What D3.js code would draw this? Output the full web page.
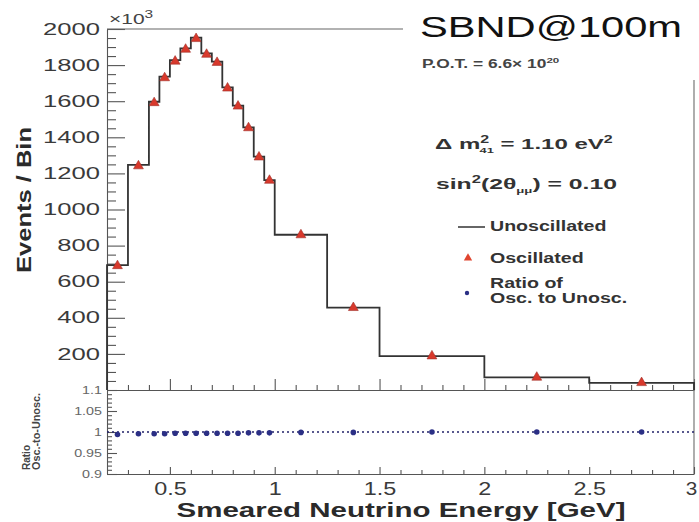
<!DOCTYPE html>
<html><head><meta charset="utf-8">
<script src="https://cdn.jsdelivr.net/npm/d3@7"></script>
<style>
body{margin:0;background:#fff}
svg{display:block}
text{font-family:"Liberation Sans",Arial,Helvetica,sans-serif;fill:#333}
</style></head><body>
<svg id="c" width="699" height="522"></svg>
<script>
// ---- data ----
const binEdges = [0.2,0.3,0.4,0.45,0.5,0.55,0.6,0.65,0.7,0.75,0.8,0.85,0.9,0.95,1.0,1.25,1.5,2.0,2.5,3.0];
const unosc = [692,1247,1597,1736,1828,1893,1952,1865,1819,1677,1575,1455,1293,1163,860,456,188,70,40]; // x10^3
const osc   = [688,1241,1591,1729,1821,1887,1946,1859,1814,1672,1572,1452,1290,1161,859,456,188,70,40];
const ratio = [0.994,0.996,0.996,0.996,0.997,0.997,0.997,0.997,0.997,0.997,0.997,0.998,0.998,0.998,0.999,0.999,1.0,1.0,1.0];
const yTickLabels = [200,400,600,800,1000,1200,1400,1600,1800,2000];
const xTickLabels = [0.5,1,1.5,2,2.5,3];
const ratioTickLabels = [0.9,0.95,1,1.05,1.1];

const svg = d3.select("#c");
const L = 107, R = 694, TOP = 29, MID = 390, BOT = 474;
const x = d3.scaleLinear([0.2,3],[L,R]);
const y = d3.scaleLinear([0,2000],[MID,TOP]);
const yr = d3.scaleLinear([0.9,1.1],[BOT,MID]);

function stretch(sel,k,origin){
  sel.style("transform-box","fill-box").style("transform-origin",origin).style("transform",`scaleX(${k})`);
}
function styleAxis(g){
  g.selectAll("path,line").attr("stroke","#555").attr("stroke-width",1.1);
}

// ---- upper panel axes ----
const gyl = svg.append("g").attr("transform",`translate(${L},0)`)
  .call(d3.axisLeft(y).tickValues(yTickLabels).tickSize(-18).tickSizeOuter(0).tickPadding(7).tickFormat(d3.format("d")));
styleAxis(gyl);
gyl.selectAll("text").attr("font-size",16).style("fill","#3a3a3a")
  .call(stretch,1.6,"100% 50%");
const yMinor = d3.range(50,2000,50).filter(v=>v%200!==0);
const gym = svg.append("g").attr("transform",`translate(${L},0)`)
  .call(d3.axisLeft(y).tickValues(yMinor).tickSize(-9).tickFormat(""));
gym.select(".domain").remove(); styleAxis(gym);

const xMinor = d3.range(3,30).map(v=>v/10).filter(v=>Math.abs(v*2-Math.round(v*2))>1e-6);
const gxu = svg.append("g").attr("transform",`translate(0,${MID})`)
  .call(d3.axisBottom(x).tickValues(xTickLabels).tickSize(-11).tickSizeOuter(0).tickFormat(""));
styleAxis(gxu);
const gxum = svg.append("g").attr("transform",`translate(0,${MID})`)
  .call(d3.axisBottom(x).tickValues(xMinor).tickSize(-5).tickFormat(""));
gxum.select(".domain").remove(); styleAxis(gxum);

// top frame (partially hidden by label area) and right frame
svg.append("line").attr("x1",L).attr("x2",403).attr("y1",TOP).attr("y2",TOP).attr("stroke","#666").attr("stroke-width",1.2);
svg.append("line").attr("x1",R).attr("x2",R).attr("y1",80).attr("y2",BOT).attr("stroke","#777").attr("stroke-width",1.2);

// x10^3
const e3 = svg.append("text").attr("x",109).attr("y",24).attr("font-size",15).style("fill","#444");
e3.append("tspan").text("×10");
e3.append("tspan").attr("font-size",11).attr("dy",-6).text("3");
stretch(e3,1.4,"0% 50%");

// ---- histogram (unoscillated) ----
const pts = [[binEdges[0],0]];
unosc.forEach((v,i)=>{ pts.push([binEdges[i],v]); pts.push([binEdges[i+1],v]); });
pts.push([binEdges[binEdges.length-1],0]);
svg.append("path").attr("d",d3.line().x(d=>x(d[0])).y(d=>y(d[1]))(pts))
  .attr("fill","none").attr("stroke","#333").attr("stroke-width",1.8);

// oscillated triangles
const centers = unosc.map((v,i)=>(binEdges[i]+binEdges[i+1])/2);
const tri = d3.symbol().type(d3.symbolTriangle).size(42);
svg.append("g").selectAll("path").data(osc).join("path")
  .attr("d",tri).attr("transform",(d,i)=>`translate(${x(centers[i])},${y(d)})`)
  .attr("fill","#d8392c").attr("stroke","#a0302a").attr("stroke-width",0.6);

// ---- lower panel ----
const gyr = svg.append("g").attr("transform",`translate(${L},0)`)
  .call(d3.axisLeft(yr).tickValues(ratioTickLabels).tickSize(-10).tickSizeOuter(0).tickPadding(5).tickFormat(d=>String(d)));
styleAxis(gyr);
gyr.selectAll("text").attr("font-size",11).style("fill","#666").call(stretch,1.3,"100% 50%");
const rMinor = d3.range(91,110).map(v=>v/100).filter(v=>Math.abs(v*20-Math.round(v*20))>1e-6);
const gyrm = svg.append("g").attr("transform",`translate(${L},0)`)
  .call(d3.axisLeft(yr).tickValues(rMinor).tickSize(-5).tickFormat(""));
gyrm.select(".domain").remove(); styleAxis(gyrm);

const gxl = svg.append("g").attr("transform",`translate(0,${BOT})`)
  .call(d3.axisBottom(x).tickValues(xTickLabels).tickSize(-7).tickSizeOuter(0).tickPadding(8).tickFormat(d=>String(d)));
styleAxis(gxl);
gxl.selectAll("text").attr("font-size",18).style("fill","#3a3a3a").call(stretch,1.3,"50% 50%");
gxl.selectAll("text").filter(d=>d===3).attr("x",-3).call(stretch,1.15,"50% 50%");
const gxlm = svg.append("g").attr("transform",`translate(0,${BOT})`)
  .call(d3.axisBottom(x).tickValues(xMinor).tickSize(-4).tickFormat(""));
gxlm.select(".domain").remove(); styleAxis(gxlm);

// dotted line at 1
svg.append("line").attr("x1",L).attr("x2",R).attr("y1",yr(1)).attr("y2",yr(1))
  .attr("stroke","#22226a").attr("stroke-width",1.6).attr("stroke-dasharray","2,3");
svg.append("g").selectAll("circle").data(ratio).join("circle")
  .attr("cx",(d,i)=>x(centers[i])).attr("cy",d=>yr(d)).attr("r",2.8).attr("fill","#2b2f85");

// ---- titles ----
svg.append("text").attr("x",401).attr("y",517).attr("text-anchor","middle")
  .attr("font-size",21).attr("font-weight","bold").attr("textLength",449).attr("lengthAdjust","spacingAndGlyphs")
  .style("fill","#2a2a2a").text("Smeared Neutrino Energy [GeV]");
svg.append("text").attr("transform","translate(31,200) rotate(-90)").attr("text-anchor","middle")
  .attr("font-size",20).attr("font-weight","bold").attr("textLength",146).attr("lengthAdjust","spacingAndGlyphs")
  .style("fill","#2a2a2a").text("Events / Bin");
svg.append("text").attr("transform","translate(30,470) rotate(-90)")
  .attr("font-size",10).attr("font-weight","bold").style("fill","#444").text("Ratio");
svg.append("text").attr("transform","translate(40,470) rotate(-90)")
  .attr("font-size",10).attr("font-weight","bold").attr("textLength",77).attr("lengthAdjust","spacingAndGlyphs")
  .style("fill","#444").text("Osc.-to-Unosc.");

// ---- annotations / legend ----
svg.append("text").attr("x",420).attr("y",37).attr("font-size",30)
  .attr("font-family","DejaVu Sans").attr("textLength",262).attr("lengthAdjust","spacingAndGlyphs")
  .style("fill","#111").text("SBND@100m");

const pot = svg.append("text").attr("x",422).attr("y",68).attr("font-size",12).attr("font-weight","bold").style("fill","#444");
pot.append("tspan").text("P.O.T. = 6.6× 10");
pot.append("tspan").attr("font-size",8).attr("dy",-5).text("20");
stretch(pot,1.45,"0% 50%");

const dm = svg.append("text").attr("x",435).attr("y",149).attr("font-size",15).attr("font-weight","bold").style("fill","#333");
dm.append("tspan").text("Δ m");
dm.append("tspan").attr("font-size",10).attr("dy",-6).text("2");
dm.append("tspan").attr("font-size",8).attr("dx",-6).attr("dy",10).text("41");
dm.append("tspan").attr("dy",-4).text(" = 1.10 eV");
dm.append("tspan").attr("font-size",10).attr("dy",-6).text("2");
stretch(dm,1.6,"0% 50%");

const sn = svg.append("text").attr("x",436).attr("y",189).attr("font-size",15).attr("font-weight","bold").style("fill","#333");
sn.append("tspan").text("sin");
sn.append("tspan").attr("font-size",10).attr("dy",-6).text("2");
sn.append("tspan").attr("dy",6).text("(2θ");
sn.append("tspan").attr("font-size",8).attr("dy",4).text("μμ");
sn.append("tspan").attr("dy",-4).text(") = 0.10");
stretch(sn,1.65,"0% 50%");

svg.append("line").attr("x1",458).attr("x2",485).attr("y1",227).attr("y2",227).attr("stroke","#333").attr("stroke-width",1.5);
const lg = [["Unoscillated",231],["Oscillated",263],["Ratio of",288],["Osc. to Unosc.",303]];
lg.forEach(([t,yy])=>{
  const tt = svg.append("text").attr("x",490).attr("y",yy).attr("font-size",14).attr("font-weight","bold").style("fill","#333").text(t);
  stretch(tt,1.4,"0% 50%");
});
svg.append("path").attr("d",d3.symbol().type(d3.symbolTriangle).size(30)).attr("transform","translate(468,258)").attr("fill","#e0452f");
svg.append("circle").attr("cx",467).attr("cy",293).attr("r",2.2).attr("fill","#2b2f85");
</script>
</body></html>
